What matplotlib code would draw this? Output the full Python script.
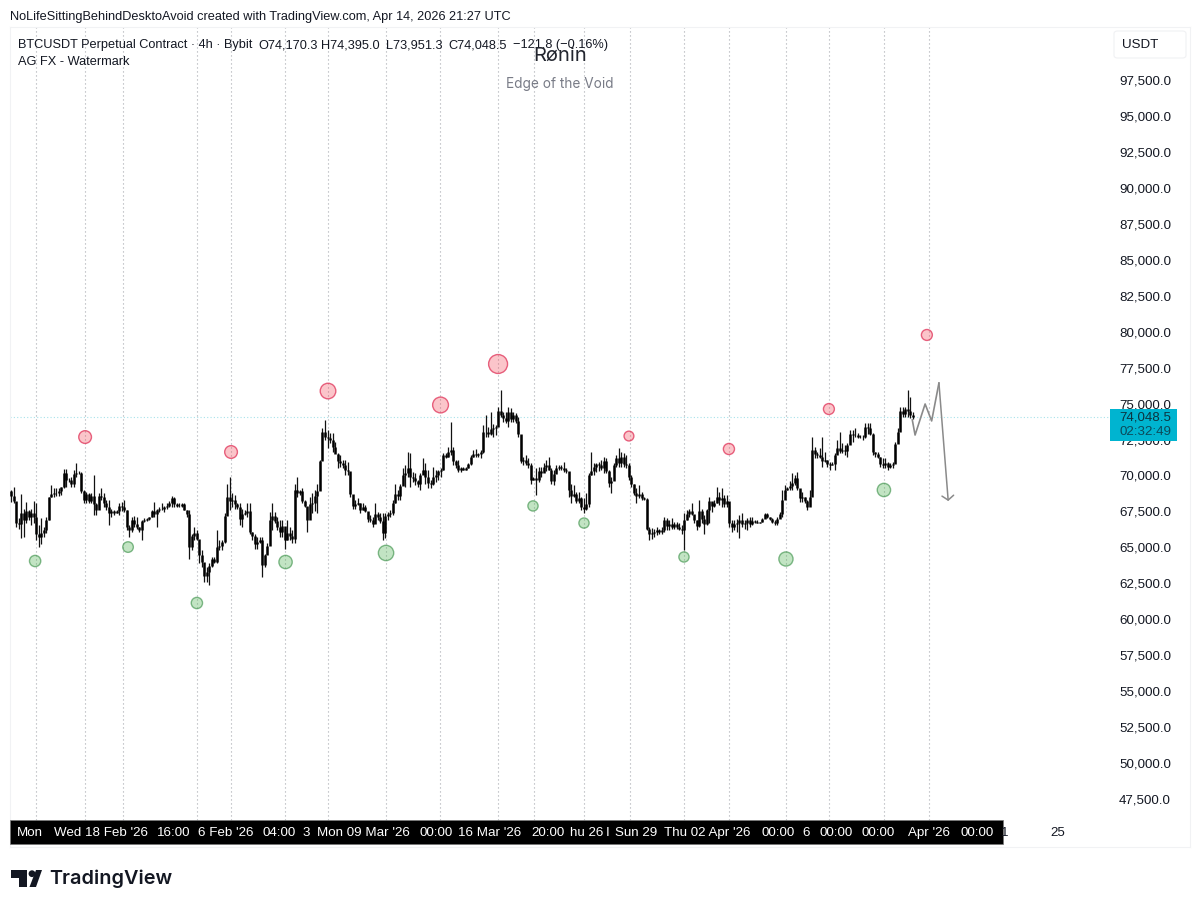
import numpy as np
import matplotlib

matplotlib.use("Agg")
import matplotlib.pyplot as plt
from matplotlib.patches import Circle, FancyBboxPatch, Polygon, Rectangle

plt.rcParams["font.family"] = ["Liberation Sans", "DejaVu Sans"]

# BTCUSDT 4h candles, prices in thousands of USDT
highs = [
    68.98, 69.17, 68.17, 67.01, 68.70, 67.70, 68.17, 67.59, 67.70, 68.24,
    68.05, 66.54, 67.01, 66.43, 67.12, 68.52, 69.33, 69.10, 69.10, 69.10,
    69.21, 70.42, 70.42, 69.79, 69.91, 70.37, 70.84, 70.32, 70.26, 68.98,
    68.86, 68.75, 68.75, 70.02, 68.05, 68.75, 69.10, 68.75, 68.28, 68.28,
    67.70, 67.59, 67.59, 68.05, 68.15, 68.28, 67.59, 66.54, 67.12, 67.17,
    67.12, 66.43, 66.89, 67.01, 67.05, 67.12, 67.59, 68.12, 67.70, 67.82,
    68.05, 67.89, 68.05, 68.20, 68.56, 68.52, 68.05, 68.05, 68.05, 68.05,
    67.59, 67.59, 65.96, 66.43, 66.20, 64.80, 64.80, 63.64, 63.64, 63.88,
    64.34, 64.34, 66.20, 65.50, 65.50, 67.36, 69.44, 69.91, 68.75, 68.63,
    68.05, 68.05, 67.70, 67.59, 68.05, 68.05, 66.08, 65.96, 65.73, 65.73,
    65.73, 64.57, 65.27, 67.47, 68.05, 67.47, 67.12, 66.89, 66.89, 66.31,
    66.89, 66.43, 66.20, 69.44, 69.91, 68.98, 69.10, 68.28, 67.82, 68.52,
    68.75, 69.00, 69.44, 71.07, 73.27, 73.85, 73.16, 72.92, 72.92, 72.34,
    71.53, 71.42, 71.07, 71.07, 70.95, 70.14, 68.40, 68.28, 68.40, 68.05,
    68.05, 67.94, 67.36, 67.24, 67.12, 68.05, 67.47, 67.36, 67.36, 67.36, 67.45,
    67.59, 68.28, 69.44, 68.98, 69.44, 70.49, 70.72, 71.65, 71.53, 70.26,
    70.14, 69.68, 70.14, 71.18, 70.84, 70.37, 69.68, 70.60, 70.37, 70.37, 70.50,
    71.53, 71.53, 72.00, 73.74, 72.00, 71.07, 71.07, 70.60, 70.60, 70.60,
    70.84, 71.42, 71.76, 71.81, 71.53, 71.76, 73.50, 74.20, 73.39, 74.43, 73.60,
    73.50, 74.78, 75.94, 74.43, 74.43, 74.78, 74.66, 74.43, 74.32, 74.08,
    72.81, 71.30, 71.42, 71.18, 70.84, 69.91, 70.49, 70.60, 70.60, 70.84, 71.10,
    71.30, 70.49, 70.37, 70.72, 70.72, 70.72, 70.95, 70.49, 70.26, 69.44,
    69.33, 68.86, 68.86, 68.52, 68.40, 68.75, 70.14, 71.65, 70.84, 70.84, 70.95,
    71.07, 71.30, 71.18, 70.37, 69.91, 70.84, 71.42, 71.88, 71.65, 71.53,
    71.42, 70.84, 70.02, 69.44, 69.10, 69.33, 68.86, 68.52, 68.40, 66.43, 66.35,
    66.31, 66.43, 66.31,
    66.43, 67.12, 67.01, 66.89, 67.01, 66.78, 66.78, 66.66, 66.54, 67.36,
    67.59, 67.70, 68.05, 67.24, 66.89, 68.28, 67.70, 67.24, 67.70, 68.52,
    68.17, 68.28, 69.21, 68.86, 69.10, 68.63, 68.63, 67.94, 66.89, 66.89, 66.95,
    67.24, 67.36, 66.89, 67.01, 67.12, 67.12, 66.89, 66.89, 66.78, 67.01,
    67.40, 67.40, 67.12, 67.01, 66.89, 67.12, 67.47, 68.98, 69.33, 69.21, 69.60,
    70.14, 70.02, 70.26, 68.98, 68.86, 68.52, 68.28, 68.98, 72.69, 72.00,
    71.65, 71.88, 72.69, 71.65, 71.07, 70.95, 70.95, 71.53, 72.46, 73.04,
    72.23, 72.11, 72.23, 73.16, 73.16, 73.27, 72.92, 72.81, 72.81, 73.62, 73.65,
    73.62, 72.92, 71.65, 71.65, 71.30, 71.18, 71.18, 70.95, 70.84, 70.95,
    72.34, 73.27, 74.78, 74.78, 74.78, 75.94, 75.48, 74.395,
]
lows = [
    68.17, 68.05, 66.43, 66.31, 65.62, 65.73, 66.66, 66.89, 66.54, 66.66,
    65.50, 65.04, 65.22, 65.73, 66.01, 66.89, 68.52, 68.52, 68.55, 68.56,
    68.63, 69.10, 69.21, 69.56, 69.21, 69.21, 69.91, 70.09, 68.75, 68.05,
    68.05, 68.05, 68.05, 67.24, 67.24, 67.82, 68.28, 67.82, 67.59, 66.54,
    67.12, 67.24, 67.36, 67.24, 67.55, 67.47, 66.20, 65.73, 66.08, 66.43,
    66.31, 66.08, 65.50, 66.78, 66.85, 66.89, 67.12, 67.12, 66.43, 67.47,
    67.59, 67.47, 67.70, 67.80, 67.82, 67.82, 67.82, 67.82, 67.82, 67.59,
    67.12, 64.22, 64.80, 65.50, 65.50, 63.88, 63.64, 62.60, 62.60, 62.37,
    63.64, 63.88, 63.88, 64.80, 64.80, 65.27, 67.36, 67.59, 67.82, 67.70,
    67.70, 66.54, 66.43, 67.24, 67.12, 65.96, 65.50, 64.92, 64.92, 65.27,
    62.95, 63.64, 64.57, 66.08, 66.20, 66.66, 66.20, 65.73, 65.73, 64.92,
    65.50, 65.50, 65.27, 65.27, 68.52, 68.63, 68.05, 67.82, 66.08, 67.59,
    67.36, 67.50, 67.36, 68.98, 71.07, 72.46, 71.88, 72.23, 71.65, 71.65,
    70.49, 70.60, 70.49, 70.02, 70.02, 68.52, 67.70, 67.70, 67.94, 67.36,
    67.59, 67.47, 66.78, 66.78, 66.43, 66.89, 66.89, 66.66, 65.50, 65.62, 66.90,
    67.12, 67.24, 68.05, 68.28, 68.28, 69.44, 69.21, 69.91, 69.21, 69.56,
    69.33, 69.21, 68.98, 70.14, 69.44, 69.10, 69.10, 69.33, 69.56, 69.68, 69.90,
    70.37, 71.18, 71.30, 71.42, 70.72, 70.49, 70.26, 70.26, 70.37, 70.37,
    70.49, 70.72, 71.30, 71.30, 71.30, 71.18, 71.53, 72.69, 72.69, 72.81, 72.70,
    72.81, 73.74, 74.08, 73.74, 73.62, 73.39, 73.74, 73.74, 73.62, 72.69,
    70.84, 70.72, 70.72, 70.49, 69.44, 69.68, 68.63, 69.56, 69.91, 70.26, 70.30,
    70.37, 69.44, 69.33, 70.26, 70.37, 70.37, 70.26, 70.14, 68.52, 68.05,
    68.52, 68.05, 68.05, 67.59, 67.36, 67.59, 67.82, 70.02, 70.02, 70.26, 70.30,
    70.37, 70.14, 70.14, 69.21, 68.75, 70.14, 70.60, 70.60, 70.60, 70.60,
    70.49, 69.68, 69.21, 68.63, 68.05, 68.40, 68.28, 68.28, 66.20, 65.50, 65.60,
    65.73, 65.85, 65.96,
    65.96, 66.08, 66.20, 66.20, 66.31, 66.31, 66.31, 66.20, 65.96, 64.80,
    66.89, 67.12, 67.24, 66.66, 66.20, 66.43, 66.66, 65.96, 66.54, 66.66,
    67.47, 67.82, 68.05, 67.94, 67.82, 67.82, 67.82, 66.43, 66.08, 66.20, 66.10,
    65.62, 66.43, 66.31, 66.20, 66.43, 66.54, 66.66, 66.66, 66.66, 66.78,
    67.01, 67.01, 66.89, 66.66, 66.54, 66.54, 67.12, 67.12, 68.75, 68.98, 69.00,
    68.98, 69.33, 68.98, 68.17, 68.17, 68.05, 67.59, 67.94, 68.86, 71.18,
    71.18, 71.18, 70.60, 70.95, 70.60, 70.37, 70.72, 70.37, 71.53, 71.53,
    71.53, 71.42, 71.30, 72.23, 72.34, 72.69, 72.58, 72.58, 72.46, 72.58, 72.90,
    72.81, 71.42, 71.30, 71.18, 70.60, 70.49, 70.49, 70.37, 70.49, 70.49,
    70.84, 72.34, 73.16, 74.08, 74.08, 74.08, 73.97, 73.951,
]
closes = [
    68.6, 68.2, 66.7, 66.6, 67.4, 66.9, 67.5, 67.1, 67.4, 67.1,
    65.9, 65.7, 66.0, 66.2, 66.9, 68.5, 68.7, 68.8, 68.8, 68.9,
    69.2, 70.2, 69.7, 69.7, 69.4, 70.1, 70.2, 70.2, 68.9, 68.3,
    68.7, 68.2, 68.6, 68.0, 67.6, 68.6, 68.5, 68.1, 67.8, 67.4,
    67.5, 67.4, 67.5, 67.9, 67.8, 67.6, 66.4, 66.2, 66.9, 66.6,
    66.4, 66.2, 66.8, 66.9, 67.0, 67.1, 67.5, 67.3, 67.6, 67.7,
    67.7, 67.8, 67.9, 68.1, 68.4, 68.0, 67.9, 67.9, 68.0, 67.6,
    67.3, 65.0, 65.8, 66.0, 65.6, 64.5, 64.0, 63.0, 63.3, 63.7,
    64.2, 64.0, 65.0, 65.1, 65.4, 67.2, 68.5, 68.2, 68.3, 68.0,
    67.8, 67.0, 67.3, 67.4, 67.5, 66.1, 65.8, 65.2, 65.4, 65.5,
    63.8, 64.5, 65.1, 66.9, 67.2, 66.8, 66.4, 66.1, 66.5, 65.5,
    66.0, 65.8, 65.6, 69.0, 68.8, 68.9, 68.2, 67.9, 66.9, 68.0,
    68.1, 68.6, 68.9, 71.0, 73.0, 72.7, 72.6, 72.5, 72.0, 71.5,
    71.0, 70.9, 70.7, 70.4, 70.3, 68.7, 67.9, 68.0, 68.1, 67.6,
    67.8, 67.5, 67.0, 66.9, 66.6, 67.3, 67.1, 66.8, 66.0, 67.2, 67.3,
    67.4, 68.1, 68.7, 68.6, 69.3, 70.0, 70.2, 70.5, 69.9, 69.8,
    69.6, 69.4, 70.0, 70.4, 69.9, 69.5, 69.4, 69.9, 70.0, 70.3, 70.35,
    71.4, 71.3, 71.6, 71.8, 71.0, 70.7, 70.4, 70.5, 70.4, 70.5,
    70.8, 71.3, 71.5, 71.4, 71.5, 71.6, 73.0, 73.0, 72.9, 73.2, 73.3,
    73.4, 74.5, 74.2, 74.0, 73.8, 74.4, 73.9, 74.2, 73.8, 72.9,
    71.0, 71.1, 70.9, 70.7, 69.7, 69.8, 69.7, 70.3, 70.2, 70.6, 70.7,
    70.4, 69.6, 70.1, 70.5, 70.6, 70.5, 70.4, 70.3, 69.0, 68.6,
    68.7, 68.2, 68.4, 67.8, 67.7, 68.0, 70.0, 70.3, 70.6, 70.8, 70.7,
    70.5, 71.0, 70.3, 69.5, 69.6, 70.7, 71.2, 70.9, 71.3, 70.8,
    70.7, 69.9, 69.4, 68.8, 68.6, 68.7, 68.4, 68.35, 66.3, 65.9, 66.0,
    66.1, 66.2, 66.1,
    66.2, 66.9, 66.5, 66.6, 66.4, 66.6, 66.4, 66.3, 66.2, 66.9,
    67.3, 67.5, 67.3, 66.9, 66.5, 67.5, 67.0, 66.6, 67.6, 68.2,
    67.9, 68.1, 68.5, 68.3, 68.4, 68.0, 68.2, 66.7, 66.4, 66.6, 66.7,
    66.9, 66.6, 66.7, 66.9, 66.6, 66.8, 66.75, 66.7, 66.75, 66.95,
    67.3, 67.1, 66.95, 66.75, 66.7, 67.0, 67.3, 68.3, 69.0, 69.1, 69.3,
    69.5, 69.8, 69.1, 68.4, 68.5, 68.2, 67.8, 68.5, 71.8, 71.5,
    71.4, 71.3, 71.0, 71.1, 70.8, 70.7, 70.8, 71.4, 71.9, 71.7,
    71.8, 71.7, 72.1, 72.9, 72.8, 72.8, 72.7, 72.65, 72.7, 73.4, 73.3,
    72.9, 71.6, 71.5, 71.3, 70.8, 70.7, 70.9, 70.6, 70.7, 70.8,
    72.2, 73.0, 74.5, 74.3, 74.6, 74.5, 74.17, 74.0485,
]
first_open = 68.9

# Swing markers from the watermark script (bar, price in USDT, marker area)
green_bars = [9.6, 46.6, 74.0, 109.3, 149.3, 207.8, 228.1, 267.9, 308.5, 347.5]
green_prices = [64050, 65020, 61130, 63980, 64610, 67880, 66690, 64330, 64190, 68990]
green_sizes = [66, 58, 66, 92, 122, 54, 54, 54, 104, 92]
red_bars = [29.5, 87.6, 126.2, 171.0, 193.9, 246.0, 285.8, 325.6, 364.6]
red_prices = [72670, 71630, 75870, 74900, 77750, 72740, 71840, 74620, 79770]
red_sizes = [84, 84, 126, 130, 186, 50, 64, 62, 62]

# Hand-drawn projection after the last candle
path_bars = [358.8, 359.9, 363.9, 366.5, 369.4, 373.1]
path_prices = [73860, 72810, 74970, 73790, 76430, 68220]

session_bars = [9.95, 29.5, 44.6, 74.0, 87.6, 109.1, 126.2, 149.3, 170.8, 193.9,
                208.2, 228.1, 246.4, 267.9, 285.8, 308.5, 325.6, 347.5, 365.4]

price_ticks = list(range(47500, 97501, 2500))
last_price = 74048.5
countdown = "02:32:49"

time_labels = ["Mon", "Wed 18 Feb '26", "16:00", "6 Feb '26", "04:00", "3", "Mon 09 Mar '26",
               "00:00", "16 Mar '26", "20:00", "hu 26", "I", "Sun 29", "Thu 02 Apr '26",
               "00:00", "6", "00:00", "00:00", "Apr '26", "00:00"]
time_label_px = [30, 101, 174, 226, 279, 306, 363, 436, 490, 548, 587, 608, 636, 707, 778, 806, 836, 878, 929, 977]

W, H = 1200, 908
TEXT = "#131722"


def fx(x):
    return x / W


def fy(y):
    return 1 - y / H


fig = plt.figure(figsize=(W / 100, H / 100), dpi=100)

# Main pane, scales chosen so ticks land 36 px apart
left, right, top, bottom = 10, 1190, 27, 847
bar_px = 2.512
ax = fig.add_axes([fx(left), fy(bottom), (right - left) / W, (bottom - top) / H])
ax.set_xlim((left - 11) / bar_px, (right - 11) / bar_px)
ax.set_ylim(97500 - (bottom - 80) / 0.01438, 97500 + (80 - top) / 0.01438)
for spine in ax.spines.values():
    spine.set_color("#f1f2f4")
    spine.set_linewidth(0.8)

ax.set_xticks([])
ax.yaxis.tick_right()
ax.set_yticks(price_ticks)
ax.set_yticklabels([f"{p:,.1f}" for p in price_ticks])
ax.tick_params(axis="y", length=0, pad=-51, labelsize=9.6, labelcolor=TEXT)

# Session separators stop at the time scale, last price line runs up to its tag
ax.vlines(session_bars, (bottom - 820) / (bottom - top), 1, transform=ax.get_xaxis_transform(),
          color="#a9abb1", lw=0.8, linestyles=(0, (1, 2.6)), zorder=1)
ax.hlines(last_price, ax.get_xlim()[0], (1110 - 11) / bar_px, color="#a8e2ea",
          lw=0.8, linestyles=(0, (1, 2)), zorder=1)

# Candles
bars = np.arange(len(closes))
high_arr = np.array(highs) * 1000
low_arr = np.array(lows) * 1000
close_arr = np.array(closes) * 1000
open_arr = np.r_[first_open * 1000, close_arr[:-1]]
ax.vlines(bars, low_arr, high_arr, color="#111111", lw=0.9, zorder=3)
ax.vlines(bars, np.minimum(open_arr, close_arr), np.maximum(open_arr, close_arr),
          color="#000000", lw=1.8, zorder=3)

# Swing markers
ax.scatter(green_bars, green_prices, s=green_sizes, facecolor=(0.30, 0.69, 0.31, 0.34),
           edgecolor=(0.25, 0.58, 0.30, 0.65), lw=1.0, zorder=4)
ax.scatter(red_bars, red_prices, s=red_sizes, facecolor=(0.95, 0.25, 0.32, 0.30),
           edgecolor=(0.88, 0.20, 0.35, 0.75), lw=1.0, zorder=4)

# Projection path with an open arrow head
ax.plot(path_bars[:-1], path_prices[:-1], color="#8a8a8a", lw=1.2, zorder=4)
ax.annotate("", xy=(path_bars[-1], path_prices[-1]), xytext=(path_bars[-2], path_prices[-2]),
            arrowprops=dict(arrowstyle="->,head_length=0.32,head_width=0.42", color="#8a8a8a",
                            lw=1.1, shrinkA=0, shrinkB=0, mutation_scale=10), zorder=4)

# Price scale furniture
fig.patches.append(FancyBboxPatch((fx(1114), fy(58)), 72 / W, 27 / H, transform=fig.transFigure,
                                  boxstyle="round,pad=0,rounding_size=0.003", facecolor="white",
                                  edgecolor="#f0f1f3", lw=0.8, figure=fig))
fig.text(fx(1122), fy(44.5), "USDT", fontsize=9.6, color=TEXT, va="center")

fig.add_artist(Rectangle((fx(1110), fy(441)), 67 / W, 32 / H, transform=fig.transFigure,
                         facecolor="#00b4d0", edgecolor="none"))
fig.text(fx(1119), fy(417.5), f"{last_price:,.1f}", fontsize=9.6, color="#0c3440", va="center")
fig.text(fx(1119), fy(432), countdown, fontsize=9.6, color="#0c4a5a", va="center")

# Time scale
fig.add_artist(Rectangle((fx(10), fy(844)), 993 / W, 24 / H, transform=fig.transFigure,
                         facecolor="black", edgecolor="#777777", lw=0.5))
for label, x in zip(time_labels, time_label_px):
    fig.text(fx(x), fy(833), label, fontsize=9.6, color="white", ha="center", va="center")
fig.text(fx(1005), fy(833), "1", fontsize=9.6, color=TEXT, ha="center", va="center")
fig.text(fx(1058), fy(833), "25", fontsize=9.6, color=TEXT, ha="center", va="center")

# Header and legend lines
fig.text(fx(10), fy(17), "NoLifeSittingBehindDesktoAvoid created with TradingView.com, Apr 14, 2026 21:27 UTC",
         fontsize=9.2, color=TEXT, va="center")
fig.text(fx(18), fy(45), "BTCUSDT Perpetual Contract · 4h · Bybit", fontsize=9.2, color=TEXT, va="center")
for x, label in zip([258, 321, 386, 448, 513],
                    ["O74,170.3", "H74,395.0", "L73,951.3", "C74,048.5", "−121.8 (−0.16%)"]):
    fig.text(fx(x), fy(45), label, fontsize=9.2, color=TEXT, va="center")
fig.text(fx(18), fy(62), "AG FX - Watermark", fontsize=9.2, color=TEXT, va="center")

# Watermark
fig.text(fx(560), fy(56), "Rønin", fontsize=14.5, color="#23262f", ha="center", va="center",
         family="Inter")
fig.text(fx(560), fy(84), "Edge of the Void", fontsize=9.8, color="#787b86", ha="center", va="center",
         family="Inter")

# Brand mark
logo_t = [(11, 870), (27.5, 870), (27.5, 887), (19, 887), (19, 878), (11, 878)]
logo_slash = [(29.5, 887), (36, 870), (42, 870), (36, 887)]
for pts in (logo_t, logo_slash):
    fig.add_artist(Polygon([(fx(x), fy(y)) for x, y in pts], closed=True, transform=fig.transFigure,
                           facecolor=TEXT, edgecolor="none"))
logo_dot = Circle((32 / 100, (H - 873.7) / 100), 3.4 / 100, transform=fig.dpi_scale_trans,
                  facecolor=TEXT, edgecolor="none")
fig.add_artist(logo_dot)
fig.text(fx(49), fy(878.5), "TradingView", fontsize=14.3, color=TEXT, va="center",
         family="Inter", fontweight="semibold")

fig.savefig("out.png", dpi=100)
